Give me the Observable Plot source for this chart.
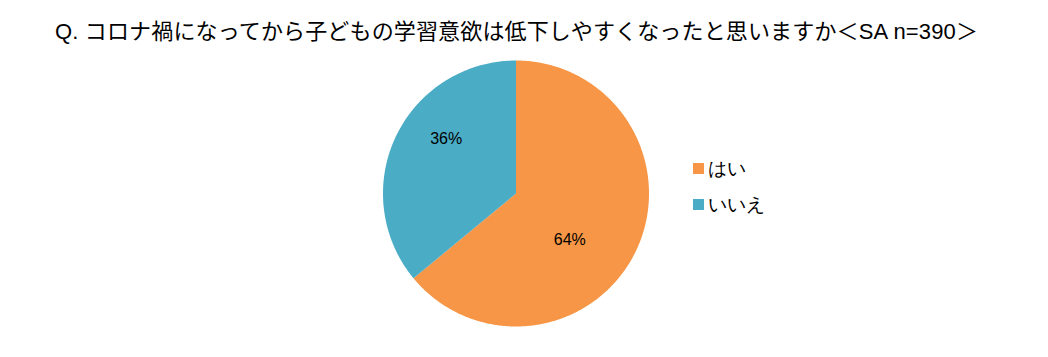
<!DOCTYPE html>
<html>
<head>
<meta charset="utf-8">
<script src="https://cdn.jsdelivr.net/npm/d3@7"></script>
<script src="https://cdn.jsdelivr.net/npm/@observablehq/plot@0.6"></script>
<style>
  html, body { margin: 0; padding: 0; background: #fff; }
  #wrap { position: relative; width: 1048px; height: 357px; overflow: hidden; font-family: "Liberation Sans", "Noto Sans CJK JP", sans-serif; }
  #title { height: 52px; box-sizing: border-box; padding: 19px 0 0 55px; font-size: 22px; line-height: 26px; letter-spacing: 0.15px; color: #000; white-space: nowrap; }
  #legend { position: absolute; left: 693px; top: 150px; }
  #legend .lg-swatch { font-size: 19px; color: #000; height: 36px; margin: 0; padding: 0; display: flex; align-items: center; }
  #legend .lg-swatch svg { margin-right: 4px !important; }
</style>
</head>
<body>
<div id="wrap">
  <div id="title">Q. コロナ禍になってから子どもの学習意欲は低下しやすくなったと思いますか＜SA n=390＞</div>
  <div id="chart"></div>
  <div id="legend"></div>
</div>
<script>
const labels = ["はい", "いいえ"];
const values = [64, 36];
const colors = ["#F79646", "#4BACC6"];
const valueLabels = ["64%", "36%"];

const total = d3.sum(values);
let acc = 0;
const slices = labels.map((label, i) => {
  const a0 = acc / total * 2 * Math.PI;
  acc += values[i];
  const a1 = acc / total * 2 * Math.PI;
  return {label, value: values[i], text: valueLabels[i], a0, a1};
});

const pts = slices.flatMap(s => {
  const n = Math.max(2, Math.ceil((s.a1 - s.a0) / (Math.PI / 360)));
  const arr = [{label: s.label, x: 0, y: 0}];
  for (let k = 0; k <= n; k++) {
    const a = s.a0 + (s.a1 - s.a0) * k / n;
    arr.push({label: s.label, x: Math.sin(a), y: Math.cos(a)});
  }
  arr.push({label: s.label, x: 0, y: 0});
  return arr;
});

const shift = 14 * Math.PI / 180;
const labelR = 0.6;
const labelPts = slices.map(s => {
  const m = (s.a0 + s.a1) / 2 + shift;
  return {text: s.text, x: labelR * Math.sin(m), y: labelR * Math.cos(m)};
});

const colorScale = {domain: labels, range: colors};

const chart = Plot.plot({
  width: 1048,
  height: 305,
  margin: 0,
  style: {fontFamily: '"Liberation Sans", "Noto Sans CJK JP", sans-serif', background: "#fff", color: "#000"},
  x: {domain: [-1, 1], range: [382.5, 648.5], axis: null},
  y: {domain: [-1, 1], range: [274, 8], axis: null},
  color: colorScale,
  marks: [
    Plot.line(pts, {x: "x", y: "y", z: "label", fill: "label", stroke: "none", curve: "linear"}),
    Plot.text(labelPts, {x: "x", y: "y", text: "text", fontSize: 16, fill: "#000", dx: -8, dy: -4})
  ]
});
document.getElementById("chart").appendChild(chart);

const legend = Plot.legend({color: colorScale, legend: "swatches", columns: 1, swatchSize: 11, className: "lg"});
document.getElementById("legend").appendChild(legend);
</script>
</body>
</html>
